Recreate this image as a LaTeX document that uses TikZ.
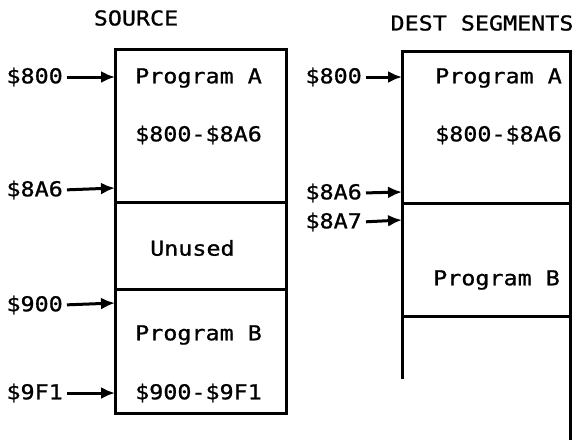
\documentclass[tikz,border=0pt]{standalone}
\usepackage{fontspec}
\newfontfamily\plotfont[FakeStretch=1.14,FakeBold=1]{DejaVu Sans Mono}
\usetikzlibrary{arrows.meta}
\tikzset{
  segbox/.style={draw=black, line width=3pt, inner sep=0pt, outer sep=0pt},
  lbl/.style={font=\plotfont\fontsize{20.5}{24}\selectfont, inner sep=0pt},
  addr/.style={lbl, anchor=east},
  ptr/.style={draw=black, line width=3pt, -{Latex[length=14pt,width=12pt]}, shorten <=4pt},
  rail/.style={draw=black, line width=3pt}
}
\begin{document}
\begin{tikzpicture}[x=1pt,y=-1pt]
\useasboundingbox (0,0) rectangle (578,440);
% titles
\node[lbl] (tsrc) at (136,18) {SOURCE};
\node[lbl] (tdst) at (482,23) {DEST SEGMENTS};
% source boxes
\node[segbox, minimum width=171pt, minimum height=153pt] (srcA) at (200.5,125.5) {};
\node[segbox, minimum width=171pt, minimum height=87pt] (srcU) at (200.5,245.5) {};
\node[segbox, minimum width=171pt, minimum height=124pt] (srcB) at (200.5,351) {};
% source texts
\node[lbl, anchor=west] (sa1) at (135,78) {Program A};
\node[lbl, anchor=west] (sa2) at (135,135) {\$800-\$8A6};
\node[lbl, anchor=west] (su) at (150,248) {Unused};
\node[lbl, anchor=west] (sb1) at (135,335) {Program B};
\node[lbl, anchor=west] (sb2) at (135,393) {\$900-\$9F1};
% dest boxes
\node[segbox, minimum width=168pt, minimum height=152pt] (dstA) at (486,127) {};
\node[segbox, minimum width=168pt, minimum height=113pt] (dstB) at (486,259.5) {};
\coordinate (dl) at (402,379);
\coordinate (dr) at (570,440);
\draw[rail] (dstB.south west) -- (dl);
\draw[rail] (dstB.south east) -- (dr);
% dest texts
\node[lbl, anchor=west] (da1) at (435,78) {Program A};
\node[lbl, anchor=west] (da2) at (435,135) {\$800-\$8A6};
\node[lbl, anchor=west] (db1) at (433,280) {Program B};
% source address labels
\node[addr] (s800) at (63,77) {\$800};
\node[addr] (s8a6) at (63,190) {\$8A6};
\node[addr] (s900) at (63,305) {\$900};
\node[addr] (s9f1) at (63,393) {\$9F1};
\coordinate (c800) at (115,77);
\coordinate (c8a6) at (115,188);
\coordinate (c900) at (115,303);
\coordinate (c9f1) at (115,393);
\draw[ptr] (s800.east) -- (c800);
\draw[ptr] (s8a6.east) -- (c8a6);
\draw[ptr] (s900.east) -- (c900);
\draw[ptr] (s9f1.east) -- (c9f1);
% dest address labels
\node[addr] (d800) at (362,77) {\$800};
\node[addr] (d8a6) at (362,193) {\$8A6};
\node[addr] (d8a7) at (362,222) {\$8A7};
\coordinate (e800) at (402,77);
\coordinate (e8a6) at (402,192);
\coordinate (e8a7) at (402,220);
\draw[ptr] (d800.east) -- (e800);
\draw[ptr] (d8a6.east) -- (e8a6);
\draw[ptr] (d8a7.east) -- (e8a7);
\end{tikzpicture}
\end{document}
